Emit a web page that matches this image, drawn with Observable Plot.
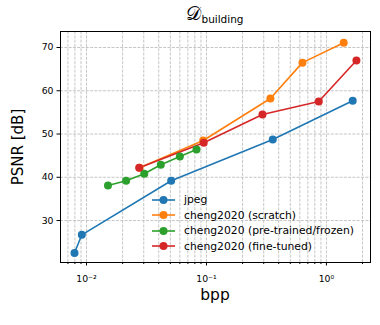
<!DOCTYPE html>
<html><head><meta charset="utf-8">
<script src="https://cdn.jsdelivr.net/npm/d3@7"></script>
<script src="https://cdn.jsdelivr.net/npm/@observablehq/plot@0.6"></script>
<style>
body{margin:0;background:#fff;font-family:"DejaVu Sans",sans-serif}
#c{position:relative;width:380px;height:325px;overflow:hidden}
#c > svg{position:absolute;left:0;top:0}
.title{position:absolute;left:60px;width:310px;top:2px;text-align:center;white-space:nowrap;color:#000}
.title .d{font-size:19px}
.title .s{font-size:10.5px;position:relative;top:3px}
.xl{position:absolute;left:60px;width:310px;top:286px;text-align:center;font-size:15.5px}
.yl{position:absolute;left:18px;top:146.5px;transform:translate(-50%,-50%) rotate(-90deg);font-size:15px;white-space:nowrap}
.leg{position:absolute;left:151px;top:192px;font-size:10.8px}
.leg div{height:15.5px;display:flex;align-items:center;white-space:nowrap}
.leg svg{margin-right:8px}
</style></head>
<body><div id="c"></div>
<script>
const seriesNames = ["jpeg","cheng2020 (scratch)","cheng2020 (pre-trained/frozen)","cheng2020 (fine-tuned)"];
const colors = ["#1f77b4","#ff7f0e","#2ca02c","#d62728"];
const jpegBpp = [0.00794,0.00914,0.0508,0.357,1.656];
const jpegPsnr = [22.5,26.7,39.2,48.75,57.7];
const scratchBpp = [0.0277,0.094,0.341,0.631,1.393];
const scratchPsnr = [42.2,48.5,58.2,66.5,71.1];
const frozenBpp = [0.0151,0.0214,0.0303,0.0416,0.060,0.0826];
const frozenPsnr = [38.1,39.2,40.8,42.9,44.8,46.4];
const fineBpp = [0.0275,0.0949,0.293,0.863,1.778];
const finePsnr = [42.2,48.0,54.5,57.5,67.0];
const xMajor = [0.01,0.1,1];
const xMajorLabels = ["10\u207B\u00B2","10\u207B\u00B9","10\u2070"];
const xMinor = [0.007,0.008,0.009,0.02,0.03,0.04,0.05,0.06,0.07,0.08,0.09,0.2,0.3,0.4,0.5,0.6,0.7,0.8,0.9,2];
const yTicks = [30,40,50,60,70];

const allX = [jpegBpp,scratchBpp,frozenBpp,fineBpp];
const allY = [jpegPsnr,scratchPsnr,frozenPsnr,finePsnr];
const data = [];
allX.forEach((xs,i)=>xs.forEach((x,j)=>data.push({s:seriesNames[i],bpp:x,psnr:allY[i][j]})));

const grid = {stroke:"#b8b8b8",strokeWidth:0.8,strokeDasharray:"3,1.3"};
const chart = Plot.plot({
  width:380,height:325,marginLeft:60,marginRight:10,marginTop:31,marginBottom:63,
  style:{fontFamily:"DejaVu Sans",fontSize:"9.3px",color:"#000",background:"transparent"},
  x:{type:"log",domain:[0.00607,2.33]},
  y:{domain:[20.3,73.7]},
  color:{domain:seriesNames,range:colors},
  marks:[
    Plot.ruleX(xMajor.concat(xMinor),grid),
    Plot.ruleY(yTicks,grid),
    Plot.axisY({ticks:yTicks,tickSize:3.5,tickPadding:3.5,label:null,tickFormat:d=>String(d)}),
    Plot.axisX({ticks:xMajor,tickSize:3.5,tickPadding:9,label:null,tickFormat:(d)=>xMajorLabels[xMajor.indexOf(d)]}),
    Plot.axisX({ticks:xMinor,tickSize:2,tickFormat:()=>"",label:null}),
    Plot.line(data,{x:"bpp",y:"psnr",z:"s",stroke:"s",strokeWidth:1.6}),
    Plot.dot(data,{x:"bpp",y:"psnr",fill:"s",r:4,stroke:null}),
    Plot.frame({stroke:"#000",strokeWidth:1})
  ]
});
const c = document.getElementById("c");
c.appendChild(chart);
c.insertAdjacentHTML("beforeend",
  `<div class="title"><span class="d">\u{1D49F}</span><span class="s">building</span></div>
   <div class="xl">bpp</div><div class="yl">PSNR [dB]</div>`);
const leg = document.createElement("div"); leg.className="leg";
seriesNames.forEach((n,i)=>{
  leg.insertAdjacentHTML("beforeend",`<div><svg width="25" height="10"><line x1="1" x2="24" y1="5" y2="5" stroke="${colors[i]}" stroke-width="1.6"/><circle cx="12.5" cy="5" r="4" fill="${colors[i]}"/></svg><span>${n}</span></div>`);
});
c.appendChild(leg);
</script></body></html>
